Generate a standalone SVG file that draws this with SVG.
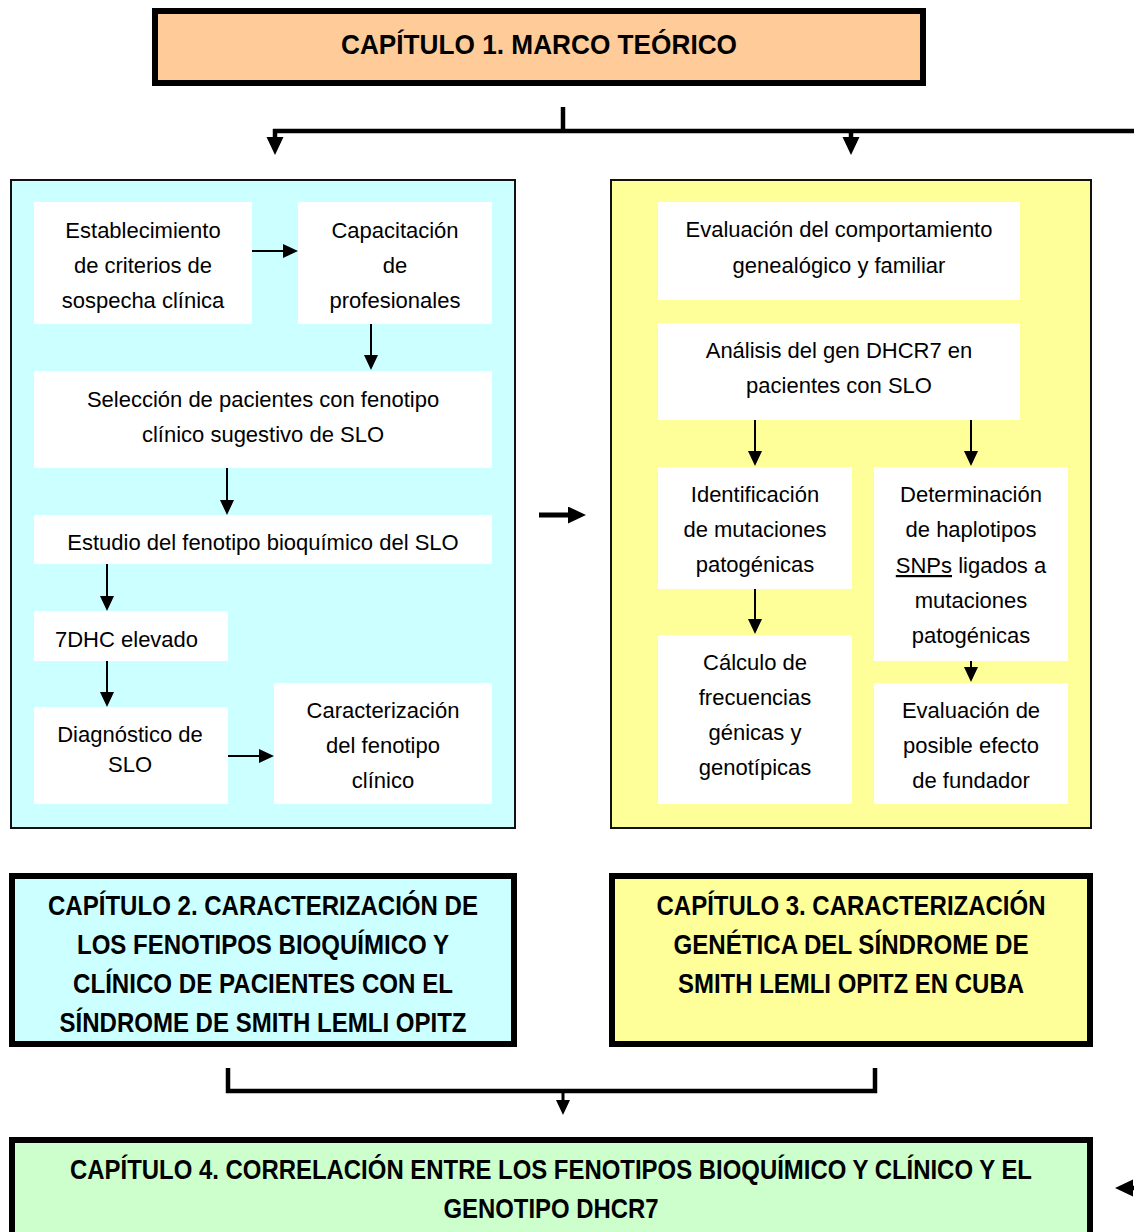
<svg xmlns="http://www.w3.org/2000/svg" width="1134" height="1232" viewBox="0 0 1134 1232">
  <defs>
    <style>
      .txt { font-family: "Liberation Sans", Arial, sans-serif; font-size: 22px; fill: #000; text-anchor: middle; }
      .cap { font-family: "Liberation Sans", Arial, sans-serif; font-size: 28px; font-weight: bold; fill: #000; text-anchor: middle; }
      .chapter { stroke: #000; stroke-width: 6; }
      .panel { stroke: #111; stroke-width: 2; }
      .box { fill: #fff; stroke: none; }
      .thin { fill: none; stroke: #000; stroke-width: 2; }
      .thick { fill: none; stroke: #000; stroke-width: 4.5; }
      .peach { fill: #FFCC99; }
      .cyan { fill: #CCFFFF; }
      .yellow { fill: #FFFF99; }
      .green { fill: #CCFFCC; }
    </style>
    <marker id="ah" markerUnits="userSpaceOnUse" markerWidth="16" markerHeight="15" refX="9" refY="7" orient="auto">
      <path d="M0,0 L15,7 L0,14 z" fill="#000"/>
    </marker>
    <marker id="ahBig" markerUnits="userSpaceOnUse" markerWidth="19" markerHeight="18" refX="12" refY="8.5" orient="auto">
      <path d="M0,0 L18,8.5 L0,17 z" fill="#000"/>
    </marker>
  </defs>

  <rect width="1134" height="1232" fill="#fff"/>

  <!-- Chapter 1 -->
  <g id="cap1">
    <rect class="chapter peach" x="155" y="11" width="768" height="72"/>
    <text class="cap" x="539" y="54" textLength="396" lengthAdjust="spacingAndGlyphs">CAPÍTULO 1. MARCO TEÓRICO</text>
  </g>

  <!-- Left panel: biochemical and clinical phenotypes -->
  <g id="panel-left">
    <rect class="panel cyan" x="11" y="180" width="504" height="648"/>
  </g>
  <g id="n-establecimiento">
    <rect class="box" x="34" y="202" width="218" height="122"/>
    <text class="txt" x="143" y="238">Establecimiento</text>
    <text class="txt" x="143" y="273">de criterios de</text>
    <text class="txt" x="143" y="308">sospecha clínica</text>
  </g>
  <g id="n-capacitacion">
    <rect class="box" x="298" y="202" width="194" height="122"/>
    <text class="txt" x="395" y="238">Capacitación</text>
    <text class="txt" x="395" y="273">de</text>
    <text class="txt" x="395" y="308">profesionales</text>
  </g>
  <g id="n-seleccion">
    <rect class="box" x="34" y="371" width="458" height="97"/>
    <text class="txt" x="263" y="407">Selección de pacientes con fenotipo</text>
    <text class="txt" x="263" y="442">clínico sugestivo de SLO</text>
  </g>
  <g id="n-estudio">
    <rect class="box" x="34" y="515" width="458" height="49"/>
    <text class="txt" x="263" y="550">Estudio del fenotipo bioquímico del SLO</text>
  </g>
  <g id="n-7dhc">
    <rect class="box" x="34" y="611" width="194" height="50"/>
    <text class="txt" x="55" y="647" style="text-anchor:start">7DHC elevado</text>
  </g>
  <g id="n-diagnostico">
    <rect class="box" x="34" y="707" width="194" height="97"/>
    <text class="txt" x="130" y="742">Diagnóstico de</text>
    <text class="txt" x="130" y="772">SLO</text>
  </g>
  <g id="n-caracterizacion">
    <rect class="box" x="274" y="683" width="218" height="121"/>
    <text class="txt" x="383" y="718">Caracterización</text>
    <text class="txt" x="383" y="753">del fenotipo</text>
    <text class="txt" x="383" y="788">clínico</text>
  </g>

  <!-- Right panel: genetic characterization -->
  <g id="panel-right">
    <rect class="panel yellow" x="611" y="180" width="480" height="648"/>
  </g>
  <g id="n-evaluacion-genealogica">
    <rect class="box" x="658" y="202" width="362" height="98"/>
    <text class="txt" x="839" y="237">Evaluación del comportamiento</text>
    <text class="txt" x="839" y="273">genealógico y familiar</text>
  </g>
  <g id="n-analisis">
    <rect class="box" x="658" y="323" width="362" height="97"/>
    <text class="txt" x="839" y="358">Análisis del gen DHCR7 en</text>
    <text class="txt" x="839" y="393">pacientes con SLO</text>
  </g>
  <g id="n-identificacion">
    <rect class="box" x="658" y="467" width="194" height="122"/>
    <text class="txt" x="755" y="502">Identificación</text>
    <text class="txt" x="755" y="537">de mutaciones</text>
    <text class="txt" x="755" y="572">patogénicas</text>
  </g>
  <g id="n-haplotipos">
    <rect class="box" x="874" y="467" width="194" height="194"/>
    <text class="txt" x="971" y="502">Determinación</text>
    <text class="txt" x="971" y="537">de haplotipos</text>
    <text class="txt" x="971" y="573"><tspan text-decoration="underline">SNPs</tspan> ligados a</text>
    <text class="txt" x="971" y="608">mutaciones</text>
    <text class="txt" x="971" y="643">patogénicas</text>
  </g>
  <g id="n-calculo">
    <rect class="box" x="658" y="635" width="194" height="169"/>
    <text class="txt" x="755" y="670">Cálculo de</text>
    <text class="txt" x="755" y="705">frecuencias</text>
    <text class="txt" x="755" y="740">génicas y</text>
    <text class="txt" x="755" y="775">genotípicas</text>
  </g>
  <g id="n-fundador">
    <rect class="box" x="874" y="683" width="194" height="121"/>
    <text class="txt" x="971" y="718">Evaluación de</text>
    <text class="txt" x="971" y="753">posible efecto</text>
    <text class="txt" x="971" y="788">de fundador</text>
  </g>

  <!-- Chapters 2, 3 and 4 -->
  <g id="cap2">
    <rect class="chapter cyan" x="12" y="876" width="502" height="168"/>
    <text class="cap" x="263" y="915" textLength="430" lengthAdjust="spacingAndGlyphs">CAPÍTULO 2. CARACTERIZACIÓN DE</text>
    <text class="cap" x="263" y="954" textLength="372" lengthAdjust="spacingAndGlyphs">LOS FENOTIPOS BIOQUÍMICO Y</text>
    <text class="cap" x="263" y="993" textLength="380" lengthAdjust="spacingAndGlyphs">CLÍNICO DE PACIENTES CON EL</text>
    <text class="cap" x="263" y="1032" textLength="407" lengthAdjust="spacingAndGlyphs">SÍNDROME DE SMITH LEMLI OPITZ</text>
  </g>
  <g id="cap3">
    <rect class="chapter yellow" x="612" y="876" width="478" height="168"/>
    <text class="cap" x="851" y="915" textLength="389" lengthAdjust="spacingAndGlyphs">CAPÍTULO 3. CARACTERIZACIÓN</text>
    <text class="cap" x="851" y="954" textLength="355" lengthAdjust="spacingAndGlyphs">GENÉTICA DEL SÍNDROME DE</text>
    <text class="cap" x="851" y="993" textLength="346" lengthAdjust="spacingAndGlyphs">SMITH LEMLI OPITZ EN CUBA</text>
  </g>
  <g id="cap4">
    <rect class="chapter green" x="12" y="1140" width="1078" height="100"/>
    <!-- long heading: condensed horizontally so it stays inside the box -->
    <text class="cap" transform="translate(551,1179) scale(0.855,1)" x="0" y="0">CAPÍTULO 4. CORRELACIÓN ENTRE LOS FENOTIPOS BIOQUÍMICO Y CLÍNICO Y EL</text>
    <text class="cap" x="551" y="1218" textLength="215" lengthAdjust="spacingAndGlyphs">GENOTIPO DHCR7</text>
  </g>

  <!-- Connectors -->
  <g id="connectors">
    <!-- from chapter 1 to the two work panels -->
    <path class="thick" d="M563,107 V131"/>
    <path class="thick" d="M273,131 H1134"/>
    <path class="thick" d="M275,129 V149" marker-end="url(#ahBig)"/>
    <path class="thick" d="M851,131 V149" marker-end="url(#ahBig)"/>

    <!-- left panel flow -->
    <path class="thin" d="M252,251 H292" marker-end="url(#ah)"/>
    <path class="thin" d="M371,324 V364" marker-end="url(#ah)"/>
    <path class="thin" d="M227,468 V509" marker-end="url(#ah)"/>
    <path class="thin" d="M107,564 V605" marker-end="url(#ah)"/>
    <path class="thin" d="M107,661 V701" marker-end="url(#ah)"/>
    <path class="thin" d="M228,756 H268" marker-end="url(#ah)"/>

    <!-- between panels -->
    <path d="M539,515 H580" fill="none" stroke="#000" stroke-width="5" marker-end="url(#ahBig)"/>

    <!-- right panel flow -->
    <path class="thin" d="M755,420 V460" marker-end="url(#ah)"/>
    <path class="thin" d="M971,420 V460" marker-end="url(#ah)"/>
    <path class="thin" d="M755,589 V628" marker-end="url(#ah)"/>
    <path class="thin" d="M971,661 V676" marker-end="url(#ah)"/>

    <!-- chapters 2 and 3 join into chapter 4 -->
    <path class="thick" d="M228,1068 V1091 H875 V1068"/>
    <path d="M563,1091 V1109" fill="none" stroke="#000" stroke-width="3" marker-end="url(#ah)"/>

    <!-- return link entering chapter 4 from the right -->
    <path class="thick" d="M1140,1188 H1121" marker-end="url(#ahBig)"/>
  </g>
</svg>
